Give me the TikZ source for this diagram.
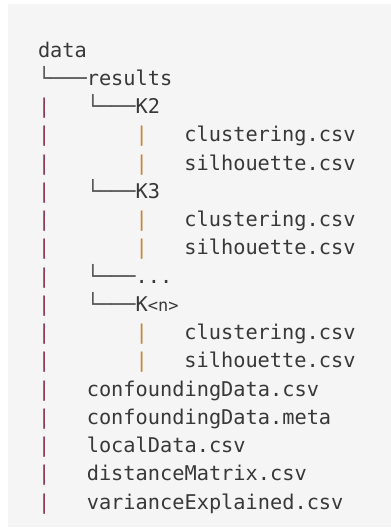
\documentclass[tikz,border=0pt]{standalone}
\usepackage{fontspec}
\setmonofont{DejaVu Sans Mono}
\definecolor{codebg}{HTML}{F5F5F5}
\definecolor{codetext}{HTML}{383838}
\definecolor{treeline}{HTML}{505050}
\definecolor{pipeone}{HTML}{8C3A52}
\definecolor{pipetwo}{HTML}{C8853A}
\newcommand{\lh}{28.25}
\tikzset{
  entry/.style={anchor=base west, inner sep=0pt, outer sep=0pt,
    font=\ttfamily\fontsize{20.3}{20.3}\selectfont, text=codetext},
  branch/.style={entry, text=treeline},
  barone/.style={entry, text=pipeone},
  bartwo/.style={entry, text=pipetwo}
}
\begin{document}
\begin{tikzpicture}[x=1pt,y=-1pt]
\useasboundingbox (0,0) rectangle (391,531);
\fill[white] (0,0) rectangle (391,531);
\fill[codebg] (8,4) rectangle (391,527);
% column positions: 0 -> 38, 4 -> 86.8, 8 -> 135.6, 12 -> 184.4
\def\ca{38}\def\cb{86.8}\def\cc{135.6}\def\cd{184.4}
% root and first level
\node[entry]  (data)    at (\ca,57) {data};
\node[branch] (brres)   at (\ca,{57+\lh}) {└───};
\node[entry]  (results) at (\cb,{57+\lh}) {results};
% K2 block
\node[barone] (p2)  at (\ca,{57+2*\lh}) {|};
\node[branch] (bk2) at (\cb,{57+2*\lh}) {└───};
\node[entry]  (k2)  at (\cc,{57+2*\lh}) {K2};
\node[barone] (p3)  at (\ca,{57+3*\lh}) {|};
\node[bartwo] (q3)  at (\cc,{57+3*\lh}) {|};
\node[entry]  (clu2) at (\cd,{57+3*\lh}) {clustering.csv};
\node[barone] (p4)  at (\ca,{57+4*\lh}) {|};
\node[bartwo] (q4)  at (\cc,{57+4*\lh}) {|};
\node[entry]  (sil2) at (\cd,{57+4*\lh}) {silhouette.csv};
% K3 block
\node[barone] (p5)  at (\ca,{57+5*\lh}) {|};
\node[branch] (bk3) at (\cb,{57+5*\lh}) {└───};
\node[entry]  (k3)  at (\cc,{57+5*\lh}) {K3};
\node[barone] (p6)  at (\ca,{57+6*\lh}) {|};
\node[bartwo] (q6)  at (\cc,{57+6*\lh}) {|};
\node[entry]  (clu3) at (\cd,{57+6*\lh}) {clustering.csv};
\node[barone] (p7)  at (\ca,{57+7*\lh}) {|};
\node[bartwo] (q7)  at (\cc,{57+7*\lh}) {|};
\node[entry]  (sil3) at (\cd,{57+7*\lh}) {silhouette.csv};
% ellipsis
\node[barone] (p8)  at (\ca,{57+8*\lh}) {|};
\node[branch] (bdots) at (\cb,{57+8*\lh}) {└───};
\node[entry]  (dots) at (\cc,{57+8*\lh}) {...};
% K<n> block
\node[barone] (p9)  at (\ca,{57+9*\lh}) {|};
\node[branch] (bkn) at (\cb,{57+9*\lh}) {└───};
\node[entry]  (kn)  at (\cc,{57+9*\lh}) {K{\fontsize{17}{17}\selectfont<n>}};
\node[barone] (p10) at (\ca,{57+10*\lh}) {|};
\node[bartwo] (q10) at (\cc,{57+10*\lh}) {|};
\node[entry]  (clun) at (\cd,{57+10*\lh}) {clustering.csv};
\node[barone] (p11) at (\ca,{57+11*\lh}) {|};
\node[bartwo] (q11) at (\cc,{57+11*\lh}) {|};
\node[entry]  (siln) at (\cd,{57+11*\lh}) {silhouette.csv};
% files under results
\node[barone] (p12) at (\ca,{57+12*\lh}) {|};
\node[entry]  (cdcsv) at (\cb,{57+12*\lh}) {confoundingData.csv};
\node[barone] (p13) at (\ca,{57+13*\lh}) {|};
\node[entry]  (cdmeta) at (\cb,{57+13*\lh}) {confoundingData.meta};
\node[barone] (p14) at (\ca,{57+14*\lh}) {|};
\node[entry]  (local) at (\cb,{57+14*\lh}) {localData.csv};
\node[barone] (p15) at (\ca,{57+15*\lh}) {|};
\node[entry]  (dist) at (\cb,{57+15*\lh}) {distanceMatrix.csv};
\node[barone] (p16) at (\ca,{57+16*\lh}) {|};
\node[entry]  (var) at (\cb,{57+16*\lh}) {varianceExplained.csv};
\end{tikzpicture}
\end{document}
